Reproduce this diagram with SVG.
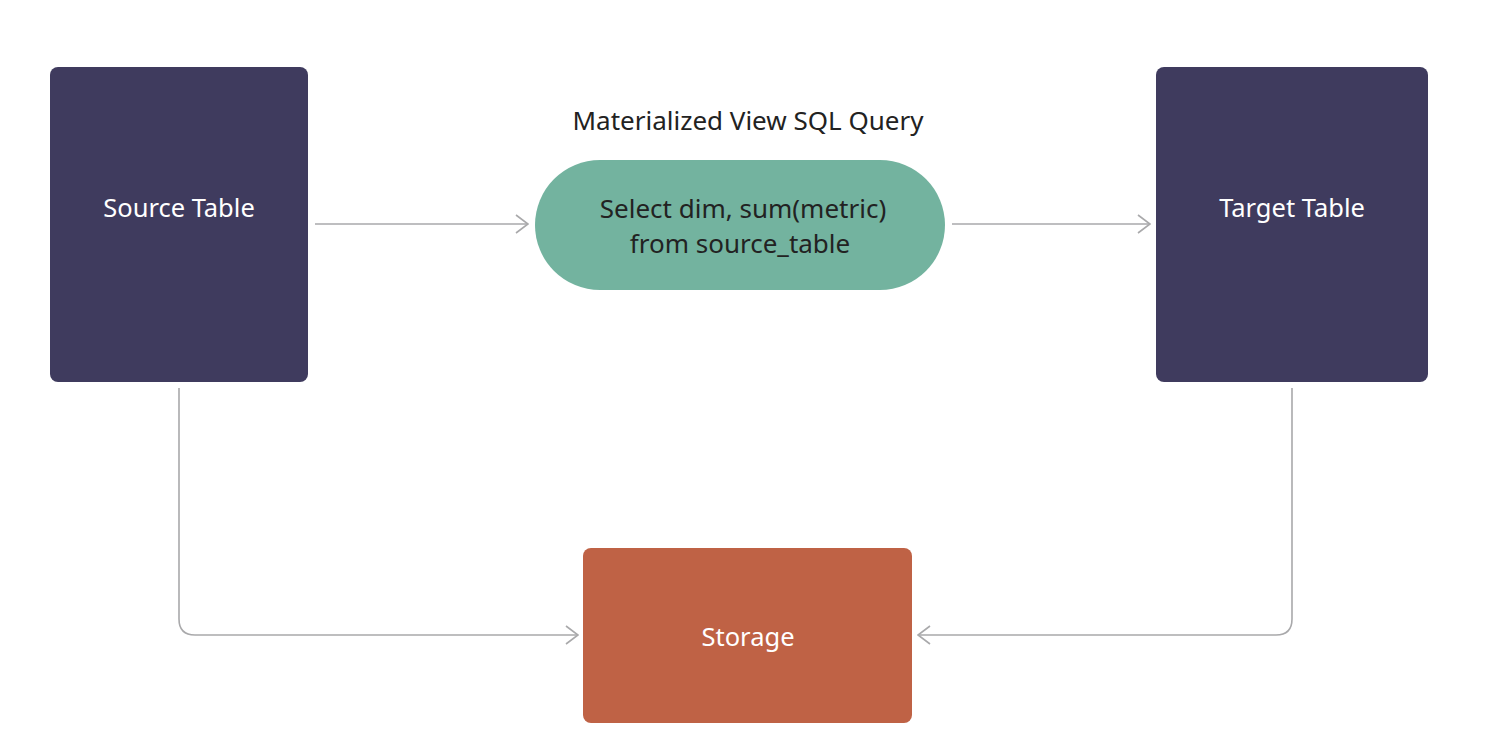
<svg xmlns="http://www.w3.org/2000/svg" width="1487" height="747" viewBox="0 0 1487 747">
<style>
.tbl{fill:#3f3b5e}
.lbl{font-family:"Noto Sans","Open Sans",sans-serif;font-size:25.5px;fill:#ffffff;text-anchor:middle}
.dark{font-family:"Noto Sans","Open Sans",sans-serif;font-size:26px;fill:#222222;text-anchor:middle}
.conn{fill:none;stroke:#a9a9ab;stroke-width:1.6}
</style>
<defs>
<marker id="arr" viewBox="0 0 14 20" refX="13" refY="10" markerWidth="14" markerHeight="20" markerUnits="userSpaceOnUse" orient="auto">
<path d="M1,1 L13,10 L1,19" fill="none" stroke="#a9a9ab" stroke-width="1.6"/>
</marker>
</defs>
<rect width="1487" height="747" fill="#ffffff"/>
<g id="connectors">
<path class="conn" d="M315,224 H528" marker-end="url(#arr)"/>
<path class="conn" d="M952,224 H1150" marker-end="url(#arr)"/>
<path class="conn" d="M179,388 V619 Q179,635 195,635 H578" marker-end="url(#arr)"/>
<path class="conn" d="M1292,388 V619 Q1292,635 1276,635 H918" marker-end="url(#arr)"/>
</g>
<g id="source-table">
<rect class="tbl" x="50" y="67" width="258" height="315" rx="8"/>
<text class="lbl" x="179" y="217">Source Table</text>
</g>
<g id="mv-query">
<text class="dark" x="748" y="130">Materialized View SQL Query</text>
<rect x="535" y="160" width="410" height="130" rx="65" fill="#73b39f"/>
<text class="dark" x="743" y="218">Select dim, sum(metric)</text>
<text class="dark" x="740" y="253">from source_table</text>
</g>
<g id="target-table">
<rect class="tbl" x="1156" y="67" width="272" height="315" rx="8"/>
<text class="lbl" x="1292" y="217">Target Table</text>
</g>
<g id="storage">
<rect x="583" y="548" width="329" height="175" rx="8" fill="#bf6245"/>
<text class="lbl" x="748" y="646">Storage</text>
</g>
</svg>
